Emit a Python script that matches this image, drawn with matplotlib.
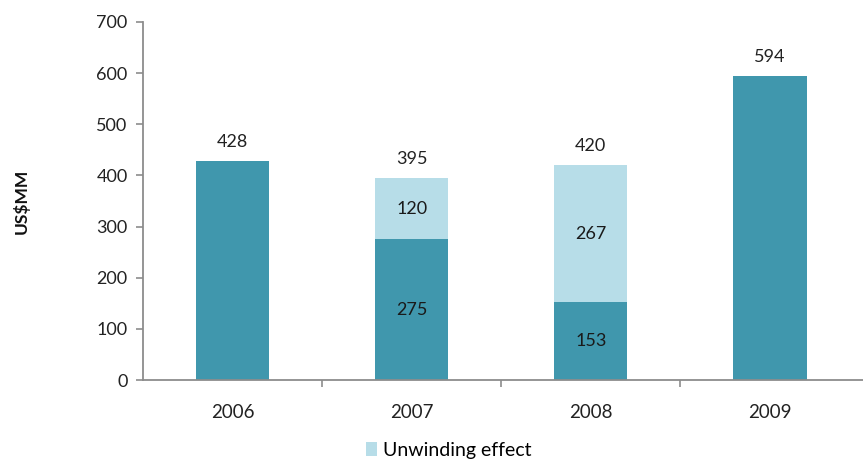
import matplotlib
matplotlib.use("Agg")
import matplotlib.pyplot as plt
from matplotlib.patches import Patch

years = ["2006", "2007", "2008", "2009"]
base = [428, 275, 153, 594]
unwinding = [0, 120, 267, 0]
totals = [428, 395, 420, 594]

dark = "#4097AD"
light = "#B7DDE8"
axis_gray = "#8C8C8C"

plt.rcParams["font.family"] = ["Lato", "DejaVu Sans"]

fig = plt.figure(figsize=(8.63, 4.63), dpi=100)
ax = fig.add_axes([0.1657, 0.179, 0.8343, 0.7735])

x = list(range(len(years)))
ax.bar(x, base, width=0.41, color=dark)
ax.bar(x, unwinding, width=0.41, bottom=base, color=light)

for i in x:
    ax.text(i, totals[i] + 22, str(totals[i]), ha="center", va="bottom",
            fontsize=13, color="#222222")
    if unwinding[i] > 0:
        ax.text(i, base[i] / 2, str(base[i]), ha="center", va="center",
                fontsize=13, color="#1a1a1a")
        ax.text(i, base[i] + unwinding[i] / 2, str(unwinding[i]), ha="center",
                va="center", fontsize=13, color="#1a1a1a")

ax.set_xlim(-0.5, 3.5 + 0.02)
ax.set_ylim(0, 700)
ax.set_yticks(range(0, 701, 100))
ax.set_xticks(x)
ax.set_xticklabels(years)
ax.set_xticks([0.5, 1.5, 2.5], minor=True)

for s in ["top", "right"]:
    ax.spines[s].set_visible(False)
for s in ["left", "bottom"]:
    ax.spines[s].set_color(axis_gray)
    ax.spines[s].set_linewidth(1.3)

ax.tick_params(axis="y", colors=axis_gray, labelcolor="#222222", labelsize=13,
               length=5, width=1.2, pad=6)
ax.tick_params(axis="x", which="major", length=0, labelsize=13.5,
               labelcolor="#222222", pad=17)
ax.tick_params(axis="x", which="minor", length=5, width=1.2, colors=axis_gray)

fig.text(0.025, 0.565, "US$MM", rotation=90, ha="center", va="center",
         fontsize=12.5, fontweight="bold", color="#111111")

fig.legend(handles=[Patch(facecolor=light, label="Unwinding effect")],
           loc="center", bbox_to_anchor=(0.52, 0.028), frameon=False,
           fontsize=14, handlelength=0.6, handleheight=0.7, handletextpad=0.3)

fig.savefig("out.png", dpi=100)
